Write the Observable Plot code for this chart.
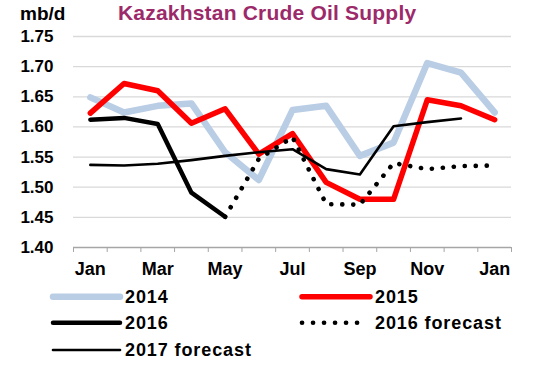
<!DOCTYPE html>
<html>
<head>
<meta charset="utf-8">
<script src="https://cdn.jsdelivr.net/npm/d3@7"></script>
<script src="https://cdn.jsdelivr.net/npm/@observablehq/plot@0.6"></script>
<style>
  html, body { margin: 0; padding: 0; background: #fff; }
  #wrap { position: relative; width: 546px; height: 365px; overflow: hidden; font-family: "Liberation Sans", Arial, sans-serif; }
  #wrap svg { position: absolute; left: 0; }
  .t { position: absolute; white-space: nowrap; font-weight: bold; line-height: 1em; }
</style>
</head>
<body>
<div id="wrap">
  <div class="t" id="unit" style="left:20px; top:4px; font-size:19px; color:#000;">mb/d</div>
  <div class="t" id="title" style="left:118px; top:2px; font-size:21px; letter-spacing:0.2px; color:#9C2A6A;">Kazakhstan Crude Oil Supply</div>
</div>
<script>
const months = ["Jan","Feb","Mar","Apr","May","Jun","Jul","Aug","Sep","Oct","Nov","Dec","Jan"];
const yTicks = [1.40, 1.45, 1.50, 1.55, 1.60, 1.65, 1.70, 1.75];
const labelMonths = [1, 3, 5, 7, 9, 11, 13];

const s2014 = [1.649, 1.624, 1.635, 1.639, 1.558, 1.512, 1.628, 1.635, 1.552, 1.574, 1.706, 1.690, 1.624];
const s2015 = [1.623, 1.672, 1.660, 1.606, 1.630, 1.555, 1.589, 1.508, 1.480, 1.480, 1.645, 1.635, 1.612];
const s2016 = [1.612, 1.615, 1.605, 1.491, 1.451];
const f2016 = [null, null, null, null, 1.451, 1.547, 1.583, 1.472, 1.471, 1.540, 1.530, 1.535, 1.536];
const f2017 = [1.537, 1.536, 1.539, 1.545, 1.552, 1.558, 1.563, 1.530, 1.521, 1.601, 1.608, 1.614];

const seriesNames = ["2014", "2015", "2016", "2016 forecast", "2017 forecast"];
const seriesValues = [s2014, s2015, s2016, f2016, f2017];
const styles = [
  {stroke: "#B9CDE5", strokeWidth: 6.5},
  {stroke: "#FF0000", strokeWidth: 5.5},
  {stroke: "#000000", strokeWidth: 4.5},
  {stroke: "#000000", strokeWidth: 4.6, strokeDasharray: "0.1 10.9", strokeLinecap: "round"},
  {stroke: "#000000", strokeWidth: 2.6}
];

const tables = seriesValues.map(vals => vals.map((v, i) => ({i: i + 1, v})));
const boundaries = d3.range(0.5, months.length + 1, 1);

const plot = Plot.plot({
  width: 546,
  height: 285,
  marginTop: 36,
  marginBottom: 38,
  marginLeft: 73,
  marginRight: 35,
  style: {fontFamily: "'Liberation Sans', Arial, sans-serif", background: "transparent", overflow: "visible"},
  x: {type: "linear", domain: [0.5, months.length + 0.5]},
  y: {domain: [1.40, 1.75]},
  marks: [
    Plot.ruleY(yTicks.filter(t => t > 1.40), {stroke: "#D9D9D9", strokeWidth: 1.3, strokeOpacity: 1}),
    Plot.axisY({ticks: yTicks, tickFormat: d3.format(".2f"), tickSize: 0, tickPadding: 20, fontSize: 17, fontWeight: "bold", fill: "#000", label: null}),
    Plot.axisX({ticks: boundaries, tickFormat: () => "", tickSize: 5, stroke: "#A6A6A6", strokeOpacity: 1, label: null}),
    Plot.axisX({ticks: labelMonths, tickFormat: i => months[i - 1], tickSize: 0, tickPadding: 15, fontSize: 18, fontWeight: "bold", fill: "#000", label: null}),
    Plot.ruleY([1.40], {stroke: "#A6A6A6", strokeWidth: 1.3}),
    ...tables.map((t, k) => Plot.line(t, {x: "i", y: "v", strokeLinejoin: "round", strokeLinecap: "round", ...styles[k]}))
  ]
});
plot.style.top = "0px";
document.getElementById("wrap").appendChild(plot);

// Legend
const legendPos = [
  {x: 53, x2: 120, tx: 125, y: 16.7},
  {x: 302, x2: 370, tx: 375, y: 16.7},
  {x: 53, x2: 120, tx: 125, y: 42.7},
  {x: 302, x2: 363, tx: 375, y: 42.7},
  {x: 53, x2: 120, tx: 125, y: 70}
];
const lsvg = d3.create("svg").attr("width", 546).attr("height", 85).style("top", "280px");
seriesNames.forEach((name, k) => {
  const p = legendPos[k], s = styles[k];
  lsvg.append("line")
    .attr("x1", p.x).attr("x2", p.x2).attr("y1", p.y).attr("y2", p.y)
    .attr("stroke", s.stroke).attr("stroke-width", s.strokeWidth)
    .attr("stroke-linecap", "round")
    .attr("stroke-dasharray", s.strokeDasharray || null);
  lsvg.append("text")
    .attr("x", p.tx).attr("y", p.y + 6.4)
    .attr("font-family", "'Liberation Sans', Arial, sans-serif")
    .attr("font-size", 18).attr("font-weight", "bold").attr("fill", "#000")
    .attr("letter-spacing", "0.9px")
    .text(name);
});
document.getElementById("wrap").appendChild(lsvg.node());
</script>
</body>
</html>
